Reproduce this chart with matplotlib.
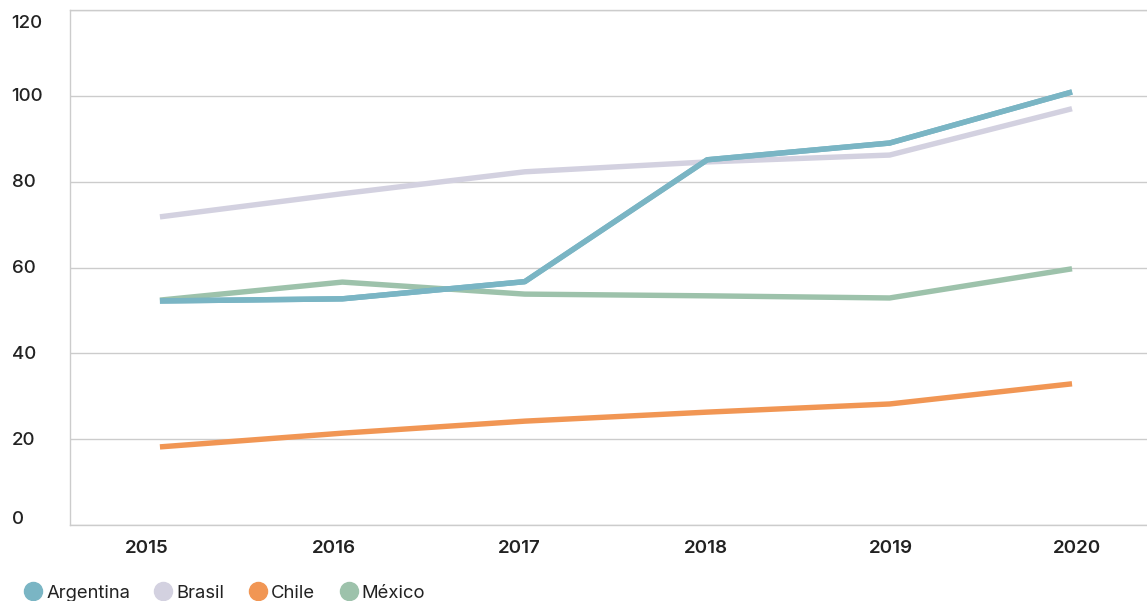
import matplotlib
matplotlib.use("Agg")
import matplotlib.pyplot as plt
from matplotlib.lines import Line2D
from matplotlib.transforms import ScaledTranslation

years = [2015, 2016, 2017, 2018, 2019, 2020]
argentina = [52.2, 52.7, 56.7, 85.1, 89.0, 100.9]
brasil = [71.8, 77.2, 82.3, 84.6, 86.2, 97.0]
chile = [18.2, 21.4, 24.2, 26.3, 28.2, 32.9]
mexico = [52.4, 56.6, 53.8, 53.4, 52.9, 59.7]
series_names = ["Argentina", "Brasil", "Chile", "México"]
colors = ["#7ab5c4", "#d3d1e0", "#f19654", "#9dc2ab"]
y_ticks = [0, 20, 40, 60, 80, 100, 120]

plt.rcParams['font.family'] = ['Inter', 'DejaVu Sans']

fig = plt.figure(figsize=(11.47, 6.01), dpi=100)
ax = fig.add_axes([70/1147, 1 - 525/601, 1 - 70/1147, (525 - 10)/601])

series = [argentina, brasil, chile, mexico]
for vals, c in zip(series[::-1], colors[::-1]):
    ax.plot(years, vals, color=c, lw=3.9, solid_capstyle='butt',
            solid_joinstyle='round', zorder=3)
ax.plot(years, argentina, color=colors[0], lw=3.9, solid_capstyle='butt',
        solid_joinstyle='round', zorder=4)

ax.set_xlim(2014.507, 2020.411)
ax.set_ylim(0, 120)
ax.set_yticks(y_ticks)
ax.set_xticks(years)
ax.set_xticklabels([str(y) for y in years], fontsize=13.5, fontweight='semibold', color='#222222')
ax.set_yticklabels([str(v) for v in y_ticks], fontsize=13.5, fontweight='medium', color='#222222')
ax.tick_params(axis='both', length=0)
ax.tick_params(axis='x', pad=11)
ax.tick_params(axis='y', pad=42)
for lbl in ax.get_yticklabels():
    lbl.set_horizontalalignment('left')

# small per-label nudges (pixels) to mimic reference label placement
ydy = {0: 7, 120: -12}
for lbl, v in zip(ax.get_yticklabels(), y_ticks):
    d = ydy.get(v, 1)
    lbl.set_transform(lbl.get_transform() + ScaledTranslation(0, d / 100, fig.dpi_scale_trans))
xdx = [-13, -8, -6, -1, 1, 5]
for lbl, d in zip(ax.get_xticklabels(), xdx):
    lbl.set_transform(lbl.get_transform() + ScaledTranslation(d / 100, 0, fig.dpi_scale_trans))

ax.grid(axis='y', color='#cccccc', lw=1)
ax.set_axisbelow(True)
for s in ['top', 'left', 'bottom']:
    ax.spines[s].set_color('#cccccc')
    ax.spines[s].set_linewidth(1)
ax.spines['right'].set_visible(False)

handles = [Line2D([0], [0], marker='o', linestyle='none', markersize=13,
                  markerfacecolor=c, markeredgecolor=c) for c in colors]
fig.legend(handles, series_names, loc='lower left', bbox_to_anchor=(0.006, -0.029),
           ncol=4, frameon=False, fontsize=13.3, handletextpad=0.22,
           columnspacing=1.3, handlelength=1.0, labelcolor='#222222')

fig.savefig("out.png", dpi=100, facecolor='white')
